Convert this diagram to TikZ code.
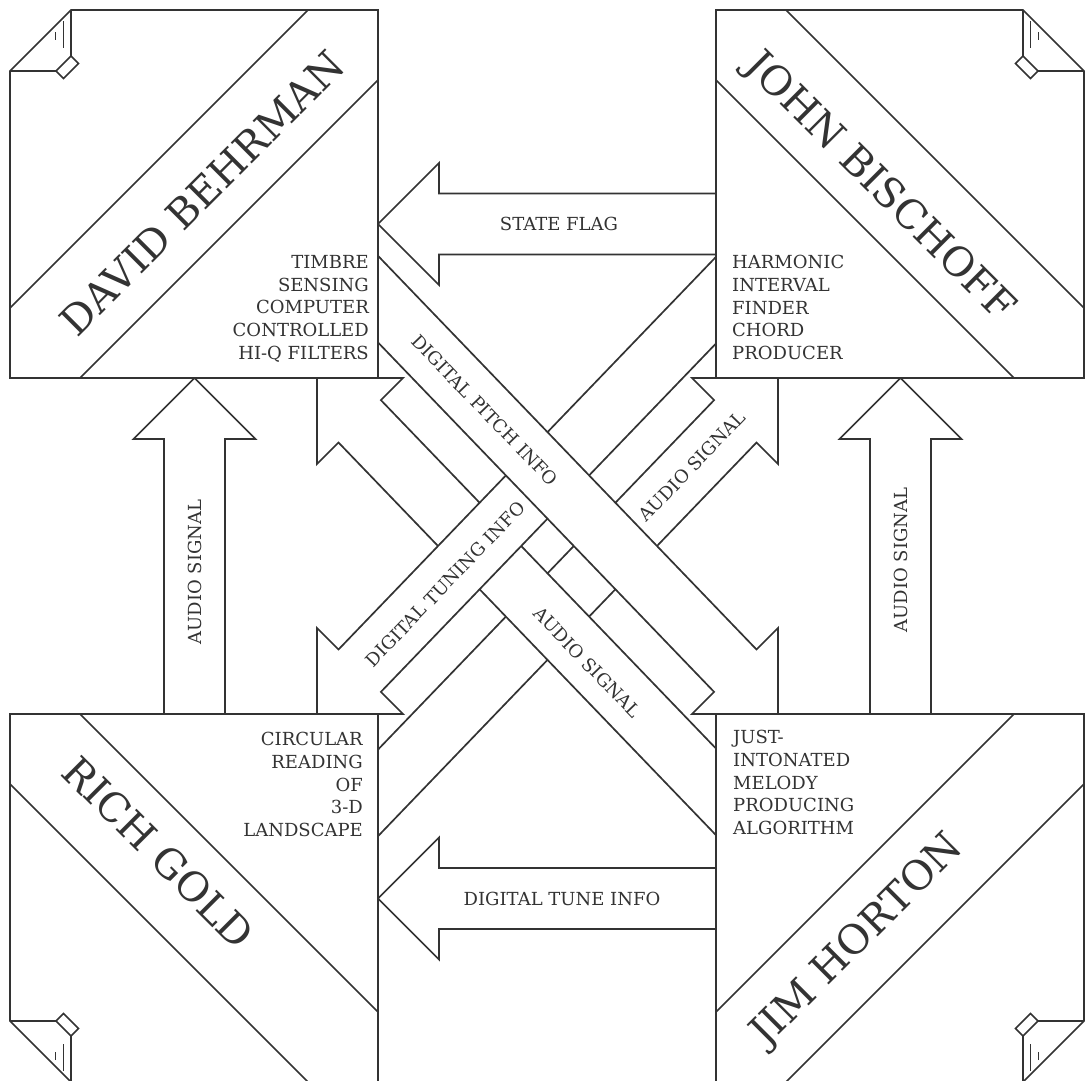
\documentclass[tikz,border=0pt]{standalone}
\usepackage{fontspec}
\setmainfont{DejaVu Serif}
\definecolor{ink}{HTML}{333333}

% one panel with its peeled, taped corner at the top left (local coordinates)
\newcommand\drawpanel{%
  \draw[blk] (71,10) -- (378,10) -- (378,378) -- (10,378) -- (10,71) -- cycle;
  \draw[rule] (10,308) -- (308,10) (80,378) -- (378,80);
  \draw[rule] (10,71) -- (56,71) (71,10) -- (71,56);
  \draw[rule] (56,71) -- (63.5,78.5) -- (78.5,63.5) -- (71,56) -- cycle;
  \draw[shine] (63.3,21) -- (63.3,48) (55.7,32) -- (55.7,40);
}

\begin{document}
\begin{tikzpicture}[x=1pt, y=-1pt,
  blk/.style={draw=ink, fill=white, line width=1.7pt},
  rule/.style={draw=ink, line width=1.7pt},
  shine/.style={draw=ink, line width=1.3pt},
  person/.style={font=\fontsize{40.5}{40.5}\selectfont, text=ink, inner sep=0pt, text depth=0pt},
  descr/.style={font=\fontsize{18}{22.8}\selectfont, text=ink, inner sep=0pt},
  tag/.style={font=\fontsize{18}{18}\selectfont, text=ink, inner sep=0pt, text depth=0pt},
]
\useasboundingbox (0,0) rectangle (1085,1080);
\clip (0,0) rectangle (1085,1080);
\fill[white] (0,0) rectangle (1085,1080);

% ---- diagonal arrows, lowest layer first ----
% Rich Gold -> John Bischoff
\draw[blk] (360,768.3) -- (714.1,400.1) -- (692,378) -- (778,378) -- (778,464)
  -- (756.5,442.5) -- (360,854.9) -- cycle;
\node[tag, rotate=46.1] (asUp) at (692,466) {AUDIO SIGNAL};
% Jim Horton -> David Behrman
\draw[blk] (735,768.3) -- (380.9,400.1) -- (403,378) -- (317,378) -- (317,464)
  -- (338.5,442.5) -- (735,854.9) -- cycle;
\node[tag, rotate=-46.1] (asLow) at (587,662) {AUDIO SIGNAL};
% John Bischoff -> Rich Gold
\draw[blk] (735,237.1) -- (338.5,649.5) -- (317,628) -- (317,714) -- (403,714)
  -- (380.9,691.9) -- (735,323.7) -- cycle;
\node[tag, rotate=46.1] (tuning) at (445,584) {DIGITAL TUNING INFO};
% David Behrman -> Jim Horton
\draw[blk] (360,237.1) -- (756.5,649.5) -- (778,628) -- (778,714) -- (692,714)
  -- (714.1,691.9) -- (360,323.7) -- cycle;
\node[tag, rotate=-46.1] (pitch) at (485,410) {DIGITAL PITCH INFO};

% ---- straight arrows ----
\draw[blk] (164,730) -- (164,439) -- (133.5,439) -- (194.5,378) -- (255.5,439)
  -- (225,439) -- (225,730) -- cycle;
\node[tag, rotate=90] (asLeft) at (194.5,572) {AUDIO SIGNAL};
\draw[blk] (870,730) -- (870,439) -- (839.5,439) -- (900.5,378) -- (961.5,439)
  -- (931,439) -- (931,730) -- cycle;
\node[tag, rotate=90] (asRight) at (900.5,560) {AUDIO SIGNAL};
\draw[blk] (730,193.5) -- (439,193.5) -- (439,163) -- (378,224) -- (439,285)
  -- (439,254.5) -- (730,254.5) -- cycle;
\node[tag] (flag) at (559,224) {STATE FLAG};
\draw[blk] (730,868) -- (439,868) -- (439,837.5) -- (378,898.5) -- (439,959.5)
  -- (439,929) -- (730,929) -- cycle;
\node[tag] (tune) at (562,898.5) {DIGITAL TUNE INFO};

% ---- the four panels ----
\begin{scope}\drawpanel\end{scope}
\begin{scope}[shift={(1094,0)}, xscale=-1]\drawpanel\end{scope}
\begin{scope}[shift={(0,1092)}, yscale=-1]\drawpanel\end{scope}
\begin{scope}[shift={(1094,1092)}, scale=-1]\drawpanel\end{scope}

\node[person, rotate=45] (behrman) at (202,193) {DAVID BEHRMAN};
\node[person, rotate=-45] (bischoff) at (882,185) {JOHN BISCHOFF};
\node[person, rotate=-45] (gold) at (159,852) {RICH GOLD};
\node[person, rotate=45] (horton) at (855,938) {JIM HORTON};

\node[descr, align=right, anchor=north east] (behrmanNote) at (369,255)
  {TIMBRE\\SENSING\\COMPUTER\\CONTROLLED\\HI-Q FILTERS};
\node[descr, align=left, anchor=north west] (bischoffNote) at (732,255)
  {HARMONIC\\INTERVAL\\FINDER\\CHORD\\PRODUCER};
\node[descr, align=right, anchor=north east] (goldNote) at (363,732)
  {CIRCULAR\\READING\\OF\\3-D\\LANDSCAPE};
\node[descr, align=left, anchor=north west] (hortonNote) at (733,730)
  {JUST-\\INTONATED\\MELODY\\PRODUCING\\ALGORITHM};
\end{tikzpicture}
\end{document}
